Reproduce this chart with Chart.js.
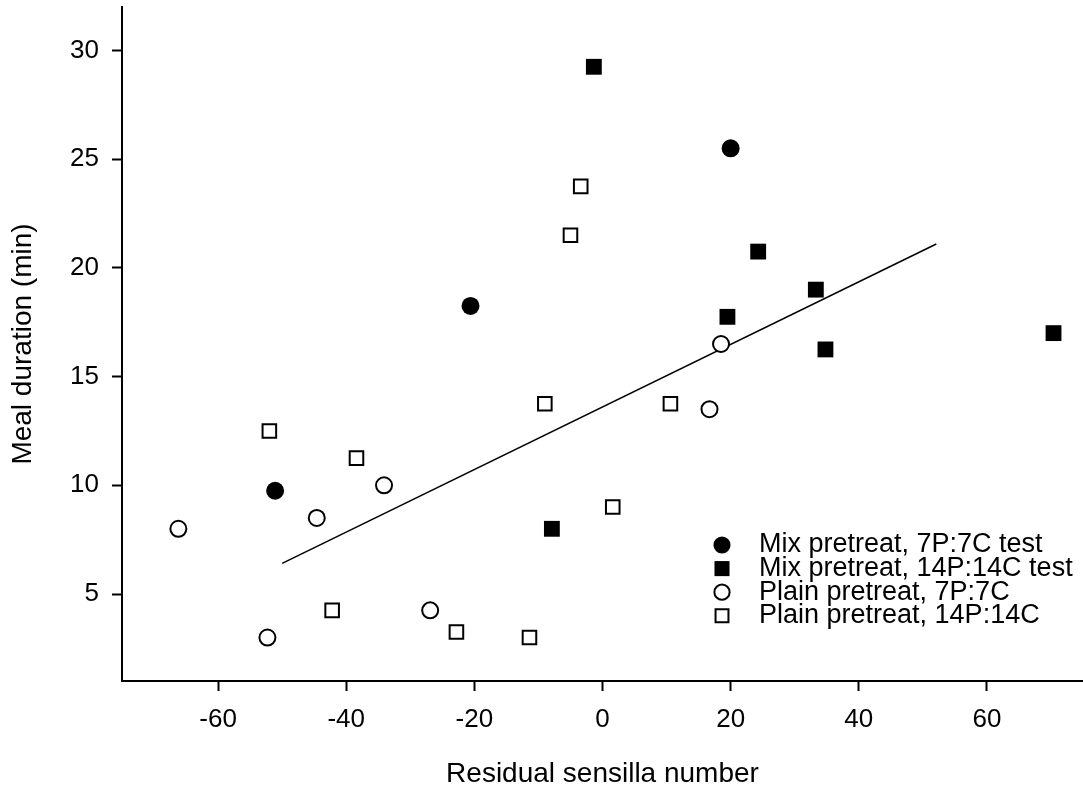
<!DOCTYPE html>
<html>
<head>
<meta charset="utf-8">
<script src="https://cdn.jsdelivr.net/npm/chart.js@4.4.1/dist/chart.umd.min.js"></script>
<style>
html,body{margin:0;padding:0;background:#fff;overflow:hidden;}
canvas{display:block;}
</style>
</head>
<body>
<canvas id="c" width="1083" height="791" style="width:1083px;height:791px;"></canvas>
<script>
// ---- data ----
const seriesNames = [
  'Mix pretreat, 7P:7C test',
  'Mix pretreat, 14P:14C test',
  'Plain pretreat, 7P:7C',
  'Plain pretreat, 14P:14C'
];
const mix7X = [-51.1, -20.6, 20.0];
const mix7Y = [9.75, 18.25, 25.5];
const mix14X = [-7.9, -1.35, 19.5, 24.3, 33.3, 34.8, 70.4];
const mix14Y = [8.0, 29.25, 17.75, 20.75, 19.0, 16.25, 17.0];
const plain7X = [-66.2, -52.3, -44.6, -34.1, -26.9, 16.7, 18.5];
const plain7Y = [8.0, 3.0, 8.5, 10.0, 4.25, 13.5, 16.5];
const plain14X = [-52.0, -42.2, -38.4, -22.8, -11.4, -9.0, -5.0, -3.4, 1.6, 10.6];
const plain14Y = [12.5, 4.25, 11.25, 3.25, 3.0, 13.75, 21.5, 23.75, 9.0, 13.75];
const fitX = [-50.0, 52.1];
const fitY = [6.41, 21.1];
const xTicks = [-60, -40, -20, 0, 20, 40, 60];
const yTicks = [5, 10, 15, 20, 25, 30];
const xTitle = 'Residual sensilla number';
const yTitle = 'Meal duration (min)';

const pts = (xs, ys) => xs.map((x, i) => ({x: x, y: ys[i]}));
const FONT = '"Liberation Sans", Arial, Helvetica, sans-serif';

const datasets = [
  {label: seriesNames[0], data: pts(mix7X, mix7Y), pointStyle: 'circle', pointRadius: 9,
   backgroundColor: '#000', borderColor: '#000', pointBorderWidth: 0, order: 1},
  {label: seriesNames[1], data: pts(mix14X, mix14Y), pointStyle: 'rect', pointRadius: 11.2,
   backgroundColor: '#000', borderColor: '#000', pointBorderWidth: 0, order: 1},
  {label: seriesNames[2], data: pts(plain7X, plain7Y), pointStyle: 'circle', pointRadius: 8,
   backgroundColor: '#fff', borderColor: '#000', pointBorderWidth: 2, order: 1},
  {label: seriesNames[3], data: pts(plain14X, plain14Y), pointStyle: 'rect', pointRadius: 9.6,
   backgroundColor: '#fff', borderColor: '#000', pointBorderWidth: 2, order: 1},
  {label: 'fit', data: pts(fitX, fitY), showLine: true, pointRadius: 0, borderColor: '#000',
   borderWidth: 1.5, backgroundColor: '#000', order: 10}
];

const insideLegend = {
  id: 'insideLegend',
  afterDatasetsDraw(chart) {
    const ctx = chart.ctx;
    const mx = 722, tx = 759, y0 = 545, dy = 23.6;
    ctx.save();
    ctx.font = '27px ' + FONT;
    ctx.textBaseline = 'middle';
    ctx.textAlign = 'left';
    for (let i = 0; i < 4; i++) {
      const ds = chart.data.datasets[i];
      const y = y0 + i * dy;
      ctx.fillStyle = ds.backgroundColor;
      ctx.strokeStyle = ds.borderColor;
      ctx.lineWidth = ds.pointBorderWidth;
      const r = ds.pointRadius * 0.95;
      Chart.helpers.drawPoint(ctx, {pointStyle: ds.pointStyle, radius: r, borderWidth: ds.pointBorderWidth, rotation: 0}, mx, y);
      ctx.fillStyle = '#000';
      ctx.fillText(ds.label, tx, y);
    }
    ctx.restore();
  }
};

function zeroPad(s) {
  s.paddingTop = 0; s.paddingBottom = 0; s.paddingLeft = 0; s.paddingRight = 0;
}

new Chart(document.getElementById('c'), {
  type: 'scatter',
  data: {datasets: datasets},
  options: {
    responsive: false,
    maintainAspectRatio: false,
    devicePixelRatio: 1,
    animation: false,
    layout: {autoPadding: false, padding: {top: 7, right: 0, left: 0, bottom: 0}},
    plugins: {legend: {display: false}, tooltip: {enabled: false}},
    scales: {
      x: {
        type: 'linear', min: -75, max: 75,
        afterBuildTicks: (s) => { s.ticks = xTicks.map(v => ({value: v})); },
        afterFit: (s) => { s.height = 110; zeroPad(s); },
        border: {display: true, color: '#000', width: 2},
        grid: {display: true, drawOnChartArea: false, drawTicks: true, tickLength: 10, tickColor: '#000', tickWidth: 2},
        ticks: {color: '#000', font: {family: FONT, size: 26, lineHeight: 1.2}, padding: 13, maxRotation: 0, autoSkip: false},
        title: {display: true, text: xTitle, color: '#000', font: {family: FONT, size: 28, lineHeight: 1.2}, padding: {top: 0, bottom: 0}}
      },
      y: {
        type: 'linear', min: 1, max: 32,
        afterBuildTicks: (s) => { s.ticks = yTicks.map(v => ({value: v})); },
        afterFit: (s) => { s.width = 122; zeroPad(s); },
        border: {display: true, color: '#000', width: 2},
        grid: {display: true, drawOnChartArea: false, drawTicks: true, tickLength: 10, tickColor: '#000', tickWidth: 2},
        ticks: {color: '#000', font: {family: FONT, size: 26, lineHeight: 1.2}, padding: 13, autoSkip: false},
        title: {display: true, text: yTitle, color: '#000', font: {family: FONT, size: 28, lineHeight: 1.2}, padding: {top: 6, bottom: 0}}
      }
    }
  },
  plugins: [insideLegend]
});
</script>
</body>
</html>
